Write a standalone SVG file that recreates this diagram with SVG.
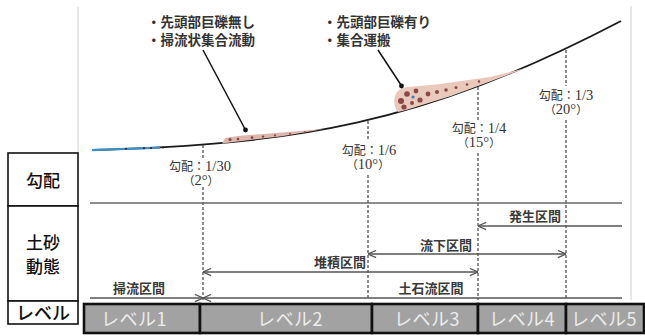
<svg xmlns="http://www.w3.org/2000/svg" width="645" height="336" viewBox="0 0 645 336">
  <style>
    .frame { fill: #fff; stroke: #111; stroke-width: 1.6; }
    .guide { stroke: #cfcfcf; stroke-width: 1; fill: none; }
    .rowline { stroke: #666; stroke-width: 1.3; fill: none; }
    .span { stroke: #555; stroke-width: 1.3; fill: none; }
    .dash { stroke: #444; stroke-width: 1.2; stroke-dasharray: 3 2; fill: none; }
    .lvl { fill: #a2a2a2; stroke: #111; stroke-width: 2.6; }
    .lvltxt { font-family: "Noto Sans CJK JP", "Noto Sans", sans-serif; font-size: 18px; fill: #ececec; text-anchor: middle; letter-spacing: 0.5px; }
    .head { font-family: "Noto Sans CJK JP", sans-serif; font-size: 17px; fill: #111; text-anchor: middle; font-weight: 500; }
    .note { font-family: "Liberation Serif", "Noto Sans CJK JP", serif; font-size: 13.5px; fill: #333; font-weight: bold; }
    .grad { font-family: "Liberation Serif", "Noto Sans CJK JP", serif; font-size: 12px; fill: #333; text-anchor: middle; }
    .deg { font-family: "Liberation Serif", "Noto Sans CJK JP", serif; font-size: 11.5px; fill: #333; text-anchor: middle; }
    .num { font-size: 14.5px; }
    .sec { font-family: "Liberation Serif", "Noto Sans CJK JP", serif; font-size: 13px; fill: #3a3a3a; text-anchor: middle; font-weight: bold; }
    .lead { stroke: #111; stroke-width: 1.5; fill: none; }
    .stone { fill: #8a4848; }
  </style>
  <defs>
    <marker id="arr" viewBox="0 0 10 10" refX="10" refY="5" markerWidth="9" markerHeight="9" markerUnits="userSpaceOnUse" orient="auto-start-reverse">
      <path d="M1,1 L10,5 L1,9" fill="none" stroke="#555" stroke-width="1.3"/>
    </marker>
  </defs>

  <!-- frame guides -->
  <line class="guide" x1="78" y1="7" x2="78" y2="153"/>
  <line class="guide" x1="631" y1="6" x2="631" y2="300"/>

  <!-- row headers -->
  <g id="hdr-gradient">
    <rect class="frame" x="8" y="153" width="70" height="53"/>
    <text class="head" x="43" y="187">勾配</text>
  </g>
  <g id="hdr-sediment">
    <rect class="frame" x="8" y="206" width="70" height="95"/>
    <text class="head" x="43" y="249">土砂</text>
    <text class="head" x="43" y="273">動態</text>
  </g>
  <g id="hdr-level">
    <rect class="frame" x="8" y="301" width="70" height="23"/>
    <text class="head" x="43" y="320" style="font-size:18px">レベル</text>
  </g>

  <!-- slope profile -->
  <g id="slope">
    <path d="M93,150 C293,144 420,126 621,21" fill="none" stroke="#1a1a1a" stroke-width="1.8"/>
    <path d="M92,150.2 L160,147.6" stroke="#3d8fc4" stroke-width="2.2" fill="none"/>
    <circle cx="126" cy="148.8" r="1" fill="#222"/>
    <circle cx="144" cy="148.2" r="1" fill="#222"/>
    <circle cx="151" cy="148" r="1" fill="#222"/>
    <circle cx="163" cy="147.4" r="1" fill="#222"/>
  </g>

  <!-- sweep-flow deposit -->
  <g id="deposit-sweep">
    <path d="M222,143.6 L225,138 L240,135.8 L282,132.6 L324,129 L282,136.2 L242,141 Z" fill="#ddb6ad"/>
    <circle class="stone" cx="230" cy="139.5" r="1.6"/>
    <circle class="stone" cx="238" cy="139" r="1.3"/>
    <circle class="stone" cx="252" cy="137.6" r="1.4"/>
    <circle class="stone" cx="263" cy="136.6" r="1.2"/>
    <circle class="stone" cx="275" cy="135.4" r="1.1"/>
    <circle class="stone" cx="290" cy="133.8" r="1"/>
    <circle class="stone" cx="305" cy="132" r="0.9"/>
  </g>

  <!-- aggregate deposit -->
  <g id="deposit-aggregate">
    <path d="M398,112 C393,106 393,96 398,91 C402,87 408,87 414,86.5 L440,84 L490,77 L526,68 L490,81.5 L451,96 L430,102.5 L406,110 Z" fill="#e9c9bb"/>
    <circle class="stone" cx="401" cy="101" r="3"/>
    <circle class="stone" cx="407" cy="94" r="2.8"/>
    <circle class="stone" cx="404" cy="107" r="2.6"/>
    <circle class="stone" cx="416" cy="91" r="2.4"/>
    <circle class="stone" cx="420" cy="100" r="2.6"/>
    <circle class="stone" cx="428" cy="94" r="2.4"/>
    <circle class="stone" cx="412" cy="103" r="2"/>
    <circle class="stone" cx="437" cy="92" r="2"/>
    <circle class="stone" cx="446" cy="90" r="1.8"/>
    <circle class="stone" cx="456" cy="87.5" r="1.5"/>
    <circle class="stone" cx="467" cy="84.5" r="1.3"/>
    <circle class="stone" cx="479" cy="81.5" r="1.2"/>
    <circle cx="413" cy="97" r="1.6" fill="#3a7fb8"/>
  </g>

  <!-- annotations -->
  <g id="note-sweep">
    <text class="note" x="147" y="27">・先頭部巨礫無し</text>
    <text class="note" x="147" y="45">・掃流状集合流動</text>
  </g>
  <g id="note-aggregate">
    <text class="note" x="323" y="27">・先頭部巨礫有り</text>
    <text class="note" x="323" y="45">・集合運搬</text>
  </g>

  <!-- gradient labels -->
  <g id="grad-1-30">
    <text class="grad" x="200" y="171">勾配：<tspan class="num">1/30</tspan></text>
    <text class="deg" x="201" y="185">（<tspan class="num">2°</tspan>）</text>
  </g>
  <g id="grad-1-6">
    <text class="grad" x="369" y="155">勾配：<tspan class="num">1/6</tspan></text>
    <text class="deg" x="368" y="169">（<tspan class="num">10°</tspan>）</text>
  </g>
  <g id="grad-1-4">
    <text class="grad" x="479" y="133">勾配：<tspan class="num">1/4</tspan></text>
    <text class="deg" x="479" y="147">（<tspan class="num">15°</tspan>）</text>
  </g>
  <g id="grad-1-3">
    <text class="grad" x="566" y="100">勾配：<tspan class="num">1/3</tspan></text>
    <text class="deg" x="566" y="114">（<tspan class="num">20°</tspan>）</text>
  </g>

  <!-- section labels -->
  <g id="sec-origin"><text class="sec" x="535" y="221">発生区間</text></g>
  <g id="sec-flow"><text class="sec" x="446" y="250">流下区間</text></g>
  <g id="sec-deposit"><text class="sec" x="340" y="267">堆積区間</text></g>
  <g id="sec-debris"><text class="sec" x="431" y="293">土石流区間</text></g>
  <g id="sec-sweep"><text class="sec" x="139" y="293">掃流区間</text></g>

  <!-- level bar -->
  <g id="level-1"><rect class="lvl" x="84" y="304" width="116" height="29"/><text class="lvltxt" x="134" y="326">レベル1</text></g>
  <g id="level-2"><rect class="lvl" x="200" y="304" width="172" height="29"/><text class="lvltxt" x="290" y="326">レベル2</text></g>
  <g id="level-3"><rect class="lvl" x="372" y="304" width="106" height="29"/><text class="lvltxt" x="427" y="326">レベル3</text></g>
  <g id="level-4"><rect class="lvl" x="478" y="304" width="88" height="29"/><text class="lvltxt" x="522" y="326">レベル4</text></g>
  <g id="level-5"><rect class="lvl" x="566" y="304" width="78" height="29"/><text class="lvltxt" x="604" y="326">レベル5</text></g>

  <!-- connectors -->
  <g id="connectors">
    <!-- leader lines -->
    <line class="lead" x1="203" y1="50" x2="245" y2="129"/>
    <circle cx="245.5" cy="130" r="2.4" fill="#111"/>
    <line class="lead" x1="378" y1="50" x2="401" y2="85"/>
    <circle cx="401.5" cy="86" r="2.4" fill="#111"/>

    <!-- gradient breakpoints -->
    <line class="dash" x1="203" y1="145" x2="203" y2="158"/>
    <line class="dash" x1="203" y1="187" x2="203" y2="300"/>
    <line class="dash" x1="368" y1="121" x2="368" y2="141"/>
    <line class="dash" x1="368" y1="175" x2="368" y2="300"/>
    <line class="dash" x1="478" y1="87" x2="478" y2="120"/>
    <line class="dash" x1="478" y1="153" x2="478" y2="300"/>
    <line class="dash" x1="566" y1="50" x2="566" y2="86"/>
    <line class="dash" x1="566" y1="120" x2="566" y2="300"/>

    <!-- row divider -->
    <line class="rowline" x1="90" y1="203" x2="622" y2="203"/>

    <!-- section spans -->
    <line class="span" x1="622" y1="226" x2="478" y2="226" marker-end="url(#arr)"/>
    <line class="span" x1="368" y1="254" x2="566" y2="254" marker-start="url(#arr)" marker-end="url(#arr)"/>
    <line class="span" x1="203" y1="272" x2="478" y2="272" marker-start="url(#arr)" marker-end="url(#arr)"/>
    <line class="span" x1="90" y1="298" x2="203" y2="298" marker-end="url(#arr)"/>
    <line class="span" x1="203" y1="298" x2="622" y2="298" marker-start="url(#arr)"/>
  </g>
</svg>
